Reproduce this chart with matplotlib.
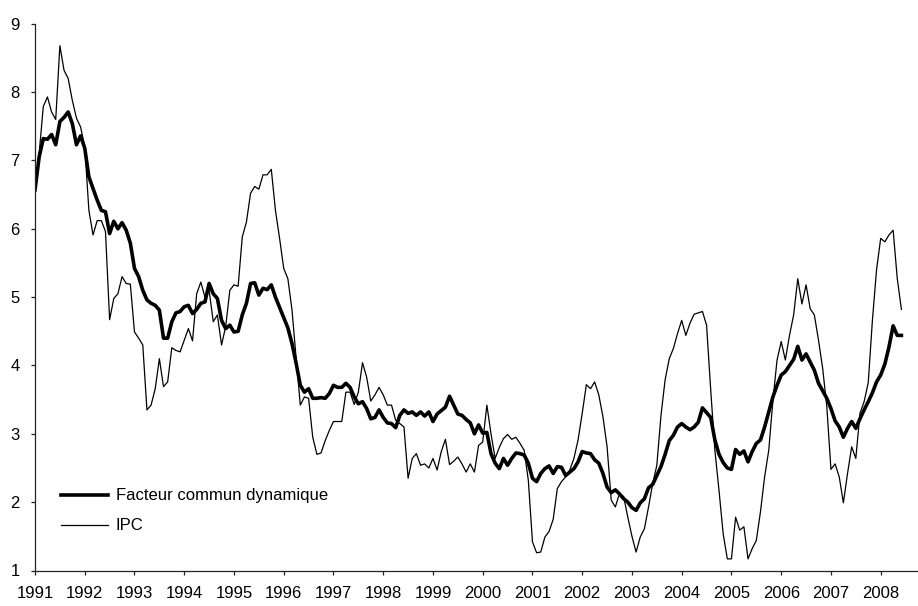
import numpy as np
import matplotlib
matplotlib.use('Agg')
import matplotlib.pyplot as plt

plt.rcParams['font.family'] = ['Liberation Sans', 'DejaVu Sans']

# monthly values, Jan 1991 - Jun 2008 (one row per year)
facteur = [
    6.57, 7.05, 7.32, 7.31, 7.38, 7.23, 7.57, 7.63, 7.71, 7.54, 7.23, 7.36,
    7.18, 6.76, 6.59, 6.42, 6.27, 6.25, 5.93, 6.11, 6.00, 6.09, 5.98, 5.79,
    5.42, 5.30, 5.10, 4.96, 4.91, 4.88, 4.81, 4.40, 4.40, 4.64, 4.77, 4.79,
    4.86, 4.88, 4.76, 4.82, 4.91, 4.93, 5.20, 5.05, 4.98, 4.66, 4.54, 4.59,
    4.49, 4.50, 4.74, 4.91, 5.20, 5.21, 5.03, 5.13, 5.11, 5.18, 5.00, 4.85,
    4.70, 4.55, 4.32, 4.03, 3.71, 3.61, 3.66, 3.52, 3.52, 3.53, 3.52, 3.59,
    3.71, 3.68, 3.68, 3.74, 3.68, 3.54, 3.44, 3.47, 3.37, 3.22, 3.24, 3.35,
    3.24, 3.16, 3.15, 3.09, 3.27, 3.35, 3.30, 3.32, 3.27, 3.32, 3.26, 3.32,
    3.18, 3.29, 3.34, 3.39, 3.55, 3.42, 3.29, 3.27, 3.21, 3.16, 3.00, 3.13,
    3.01, 3.02, 2.71, 2.57, 2.49, 2.64, 2.54, 2.64, 2.72, 2.71, 2.69, 2.57,
    2.35, 2.30, 2.42, 2.49, 2.53, 2.42, 2.52, 2.51, 2.39, 2.44, 2.49, 2.59,
    2.74, 2.72, 2.71, 2.62, 2.57, 2.42, 2.22, 2.14, 2.18, 2.12, 2.05, 2.00,
    1.92, 1.88, 1.99, 2.05, 2.21, 2.26, 2.39, 2.52, 2.70, 2.90, 2.98, 3.10,
    3.15, 3.10, 3.06, 3.10, 3.17, 3.38, 3.31, 3.24, 2.91, 2.70, 2.58, 2.50,
    2.48, 2.77, 2.70, 2.75, 2.59, 2.74, 2.86, 2.91, 3.10, 3.32, 3.54, 3.71,
    3.86, 3.91, 4.00, 4.09, 4.28, 4.08, 4.17, 4.05, 3.93, 3.74, 3.63, 3.52,
    3.37, 3.19, 3.10, 2.95, 3.08, 3.18, 3.08, 3.22, 3.35, 3.47, 3.60, 3.76,
    3.86, 4.02, 4.27, 4.58, 4.44, 4.44,
]

ipc = [
    6.57, 7.10, 7.79, 7.93, 7.71, 7.60, 8.68, 8.32, 8.20, 7.88, 7.62, 7.49,
    7.20, 6.27, 5.91, 6.12, 6.12, 5.96, 4.67, 4.98, 5.05, 5.30, 5.20, 5.19,
    4.49, 4.40, 4.30, 3.35, 3.42, 3.66, 4.10, 3.69, 3.76, 4.26, 4.22, 4.20,
    4.37, 4.54, 4.36, 5.05, 5.22, 5.00, 5.10, 4.64, 4.74, 4.30, 4.57, 5.10,
    5.18, 5.16, 5.88, 6.10, 6.52, 6.62, 6.58, 6.79, 6.79, 6.87, 6.27, 5.86,
    5.42, 5.27, 4.81, 4.10, 3.42, 3.54, 3.52, 2.95, 2.70, 2.72, 2.90, 3.05,
    3.18, 3.18, 3.18, 3.61, 3.61, 3.43, 3.61, 4.04, 3.83, 3.48, 3.57, 3.68,
    3.57, 3.42, 3.42, 3.20, 3.15, 3.10, 2.35, 2.64, 2.71, 2.54, 2.56, 2.50,
    2.64, 2.47, 2.74, 2.92, 2.55, 2.60, 2.66, 2.56, 2.44, 2.56, 2.44, 2.83,
    2.88, 3.42, 3.00, 2.64, 2.80, 2.93, 2.99, 2.92, 2.95, 2.86, 2.76, 2.32,
    1.42, 1.26, 1.27, 1.49, 1.57, 1.75, 2.20, 2.30, 2.37, 2.47, 2.64, 2.91,
    3.30, 3.72, 3.66, 3.76, 3.57, 3.25, 2.81, 2.03, 1.93, 2.13, 2.08, 1.78,
    1.50, 1.27, 1.49, 1.61, 1.93, 2.27, 2.54, 3.27, 3.79, 4.10, 4.25, 4.47,
    4.66, 4.44, 4.62, 4.75, 4.77, 4.79, 4.59, 3.64, 2.76, 2.17, 1.54, 1.17,
    1.17, 1.78, 1.59, 1.64, 1.17, 1.32, 1.44, 1.86, 2.37, 2.76, 3.49, 4.08,
    4.35, 4.08, 4.44, 4.74, 5.27, 4.90, 5.18, 4.83, 4.74, 4.37, 3.96, 3.40,
    2.48, 2.56, 2.37, 1.99, 2.42, 2.81, 2.64, 3.30, 3.47, 3.75, 4.66, 5.40,
    5.86, 5.81, 5.91, 5.98, 5.27, 4.82,
]

years = list(range(1991, 2009))
yticks = list(range(1, 10))

# time axis: one point per month starting Jan 1991
t = 1991 + np.arange(len(facteur)) / 12.0

fig = plt.figure(figsize=(9.18, 6.06), dpi=100)
ax = fig.add_axes([35 / 918, 35.5 / 606, 883 / 918, 546.7 / 606])

ax.plot(t, facteur, color='black', linewidth=2.6, label='Facteur commun dynamique')
ax.plot(t, ipc, color='black', linewidth=0.9, label='IPC')

ax.set_xlim(1991, 2008.75)
ax.set_ylim(1, 9)
ax.set_xticks(years)
ax.set_xticklabels([str(y) for y in years])
ax.set_yticks(yticks)

for side in ['top', 'right']:
    ax.spines[side].set_visible(False)
for side in ['left', 'bottom']:
    ax.spines[side].set_linewidth(0.9)
    ax.spines[side].set_color('#222222')

ax.tick_params(axis='both', direction='out', length=3, width=0.9, color='#222222', labelsize=12)
ax.tick_params(axis='x', pad=8)
ax.tick_params(axis='y', pad=8)

ax.legend(loc='upper left', bbox_to_anchor=(0.030, 0.150), frameon=False,
          borderaxespad=0, borderpad=0, handlelength=2.8, handletextpad=0.45,
          labelspacing=0.9, fontsize=12)

fig.savefig('out.png', dpi=100)
